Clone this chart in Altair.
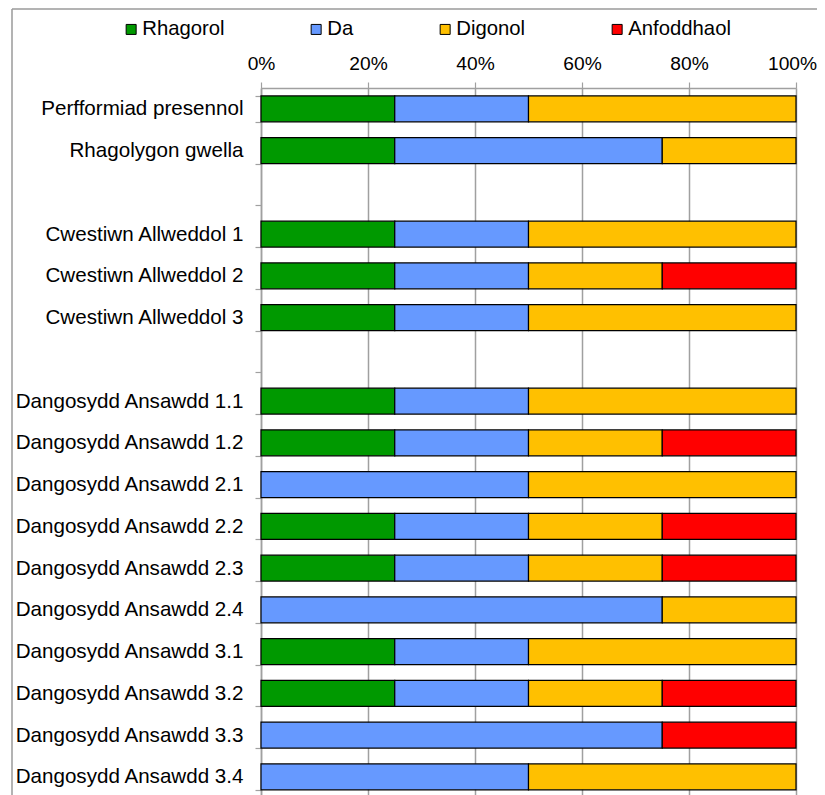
import altair as alt
import pandas as pd

# ---- data ----
categories = [
    "Perfformiad presennol", "Rhagolygon gwella",
    "Cwestiwn Allweddol 1", "Cwestiwn Allweddol 2", "Cwestiwn Allweddol 3",
    "Dangosydd Ansawdd 1.1", "Dangosydd Ansawdd 1.2", "Dangosydd Ansawdd 2.1",
    "Dangosydd Ansawdd 2.2", "Dangosydd Ansawdd 2.3", "Dangosydd Ansawdd 2.4",
    "Dangosydd Ansawdd 3.1", "Dangosydd Ansawdd 3.2", "Dangosydd Ansawdd 3.3",
    "Dangosydd Ansawdd 3.4",
]
rhagorol   = [1, 1, 1, 1, 1, 1, 1, 0, 1, 1, 0, 1, 1, 0, 0]
da         = [1, 2, 1, 1, 1, 1, 1, 2, 1, 1, 3, 1, 1, 3, 2]
digonol    = [2, 1, 2, 1, 2, 2, 1, 2, 1, 1, 1, 2, 1, 0, 2]
anfoddhaol = [0, 0, 0, 1, 0, 0, 1, 0, 1, 1, 0, 0, 1, 1, 0]

series = ["Rhagorol", "Da", "Digonol", "Anfoddhaol"]
colors = ["#009900", "#6699FF", "#FFC000", "#FF0000"]

# row order including the two blank spacer rows
rows = categories[:2] + [" "] + categories[2:5] + ["  "] + categories[5:]
x_ticks = [0, 0.2, 0.4, 0.6, 0.8, 1.0]

records = []
for i, cat in enumerate(categories):
    for j, (name, vals) in enumerate(zip(series, [rhagorol, da, digonol, anfoddhaol])):
        if vals[i] > 0:
            records.append({"cat": cat, "series": name, "order": j, "value": vals[i]})
df = pd.DataFrame(records)

FONT = "Liberation Sans"
W = 535
H = 709.75       # 17 rows of 41.75px
GRID = "#a0a0a0"

bars = alt.Chart(df).mark_bar(stroke="black", strokeWidth=1.2).encode(
    y=alt.Y("cat:N", sort=rows,
            scale=alt.Scale(domain=rows, paddingInner=0.38, paddingOuter=0.19),
            axis=alt.Axis(title=None, tickBand="extent", labelFontSize=20.6, labelFont=FONT,
                          labelColor="black", labelPadding=12, tickSize=6, tickColor=GRID,
                          domainColor=GRID, domainWidth=1.5, tickWidth=1.2, grid=False,
                          labelLimit=400)),
    x=alt.X("value:Q", stack="normalize",
            scale=alt.Scale(domain=[0, 1], nice=False),
            axis=alt.Axis(title=None, orient="top", format="%", values=x_ticks,
                          labelFontSize=19.2, labelFont=FONT, labelColor="black",
                          labelPadding=9, tickSize=6, tickColor=GRID, tickWidth=1.2,
                          domainColor=GRID, domainWidth=1.5, grid=True, gridColor=GRID,
                          gridWidth=1.5, gridOpacity=1, labelFlush=False,
                          labelOffset={"condition": {"test": "datum.value === 1", "value": -4},
                                       "value": 0})),
    color=alt.Color("series:N", sort=series,
                    scale=alt.Scale(domain=series, range=colors),
                    legend=alt.Legend(title=None, orient="none", direction="horizontal",
                                      legendX=-140, legendY=-69, padding=0,
                                      symbolType="square",
                                      symbolSize=100, symbolStrokeColor="black",
                                      symbolStrokeWidth=1, labelFontSize=20.3,
                                      labelFont=FONT, labelColor="black", labelOffset=1,
                                      columnPadding=81, symbolOpacity=1)),
    order=alt.Order("order:Q"),
)

frame_df = pd.DataFrame({"k": [0]})
frame_left = alt.Chart(frame_df).mark_rule(color="#9a9a9a", strokeWidth=1.5).encode(
    x=alt.value(-249), y=alt.value(-79), y2=alt.value(H + 20))
frame_top = alt.Chart(frame_df).mark_rule(color="#9a9a9a", strokeWidth=1.5).encode(
    x=alt.value(-249), x2=alt.value(W + 40), y=alt.value(-79))

chart = alt.layer(bars, frame_left, frame_top).properties(
    width=W, height=H,
    autosize=alt.AutoSizeParams(type="none"),
    padding={"left": 253, "top": 80, "right": 21, "bottom": 0},
).configure_view(strokeWidth=0).configure(font=FONT)

chart.save("out.html", embed_options={"renderer": "svg", "actions": False})
